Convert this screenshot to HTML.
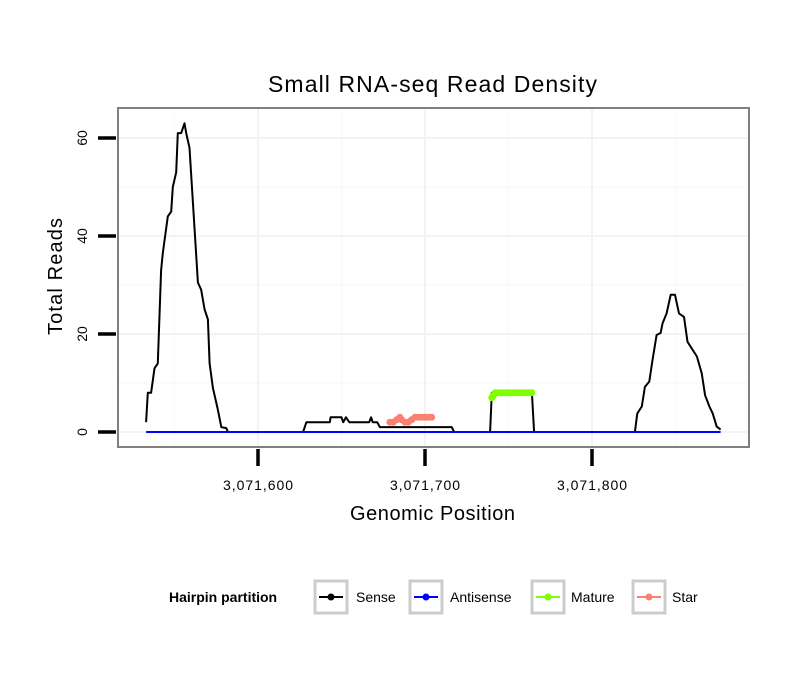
<!DOCTYPE html>
<html><head><meta charset="utf-8"><style>
body{margin:0;background:#fff}
svg text{font-family:"Liberation Sans",Arial,sans-serif}
</style></head><body>
<svg id="chart" width="810" height="690" viewBox="0 0 810 690" xmlns="http://www.w3.org/2000/svg">
<rect x="0" y="0" width="810" height="690" fill="#fff"/>
<text x="268" y="92" font-size="23" textLength="329" lengthAdjust="spacing" fill="#000">Small RNA-seq Read Density</text>
<g id="grid"></g>
<g id="series"></g>
<rect x="118" y="108" width="631" height="339" fill="none" stroke="#7f7f7f" stroke-width="2"/>
<g id="axes"></g>
<text x="350" y="520" font-size="20" textLength="165" lengthAdjust="spacing">Genomic Position</text>
<text transform="translate(62,335) rotate(-90)" font-size="20" textLength="117" lengthAdjust="spacing">Total Reads</text>
<g>
<text x="169" y="602" font-size="14" font-weight="bold">Hairpin partition</text>
<g>
<rect x="315" y="581" width="32" height="32" fill="#fff" stroke="#cccccc" stroke-width="3"/>
<line x1="319" y1="597" x2="343" y2="597" stroke="#000" stroke-width="2"/><circle cx="331" cy="597" r="3.5" fill="#000"/>
<text x="356" y="602" font-size="14">Sense</text></g>
<g>
<rect x="410" y="581" width="32" height="32" fill="#fff" stroke="#cccccc" stroke-width="3"/>
<line x1="414" y1="597" x2="438" y2="597" stroke="#0000ff" stroke-width="2"/><circle cx="426" cy="597" r="3.5" fill="#0000ff"/>
<text x="450" y="602" font-size="14">Antisense</text></g>
<g>
<rect x="532" y="581" width="32" height="32" fill="#fff" stroke="#cccccc" stroke-width="3"/>
<line x1="536" y1="597" x2="560" y2="597" stroke="#7fff00" stroke-width="2"/><circle cx="548" cy="597" r="3.5" fill="#7fff00"/>
<text x="571" y="602" font-size="14">Mature</text></g>
<g>
<rect x="633" y="581" width="32" height="32" fill="#fff" stroke="#cccccc" stroke-width="3"/>
<line x1="637" y1="597" x2="661" y2="597" stroke="#fa8072" stroke-width="2"/><circle cx="649" cy="597" r="3.5" fill="#fa8072"/>
<text x="672" y="602" font-size="14">Star</text></g>
</g>
</svg>
<script>
const base = 3071600;
const senseOffsets = [-67,-66,-64,-62,-60,-58,-57,-54,-52,-51,-49,-48,-46,-44,-43,-41,-36,-34,-32,-30,-29,-27,-24,-22,-19,-18,
 27,29,43,43.5,50,51,52.7,54.7,66.6,67.7,68.7,71.4,73,79,104,116,117.4,139,140,164,165.3,
 225.7,227.1,229.8,231.7,234.3,236.3,238.7,241.1,242.3,244.7,247.1,249.7,252.1,255.1,257.2,259.8,262.8,265.7,267.7,270.3,272.3,274.7,277];
const senseValues = [2,8,8,13,14,33,36.5,44,45,50,53,61,61,63,61,58,30.5,29,25,23,14,9,4.5,1,0.8,0,
 0,2,2,3,3,2,3,2,2,3,2,2,1,1,1,1,0,0,8,8,0,
 0,3.8,5.2,9.2,10.3,14.8,19.8,20.2,22.2,24.2,28,28,24.2,23.5,18.4,17,15.4,12,7.5,5.2,3.8,1.1,0.5];
const antisenseOffsets = [-67,277];
const antisenseValues = [0,0];
const matureOffsets = [140,141,142,144,146,148,150,152,154,156,158,160,162,164];
const matureValues = [7,7.5,8,8,8,8,8,8,8,8,8,8,8,8];
const starOffsets = [79,81,83,85,86,88,90,92,94,96,98,100,102,104];
const starValues = [2,2,2.5,3,2.5,2,2,2.5,3,3,3,3,3,3];
const yTicks = [0,20,40,60];
const yMinor = [10,30,50];
const xTicks = [3071600,3071700,3071800];
const xTickLabels = ["3,071,600","3,071,700","3,071,800"];
const xMinor = [3071550,3071650,3071750,3071850];

const NS="http://www.w3.org/2000/svg";
const X = v => 258 + (v - base) * 1.67;
const Y = v => 432 - v * 4.9;
function mk(tag, attrs, parent){const e=document.createElementNS(NS,tag);for(const k in attrs)e.setAttribute(k,attrs[k]);parent.appendChild(e);return e;}
const grid=document.getElementById('grid'), ser=document.getElementById('series'), axes=document.getElementById('axes');
mk('rect',{x:118,y:108,width:631,height:339,fill:'#fff'},grid);
yMinor.forEach(v=>{const l=mk('line',{x1:118,x2:749,y1:Y(v),y2:Y(v),stroke:'#fafafa','stroke-width':1.5},grid);

});
xMinor.forEach(v=>{const l=mk('line',{x1:X(v),x2:X(v),y1:108,y2:447,stroke:'#fafafa','stroke-width':1.5},grid);

});
yTicks.forEach(v=>{const l=mk('line',{x1:118,x2:749,y1:Y(v),y2:Y(v),stroke:'#f3f3f3','stroke-width':2},grid);

});
xTicks.forEach(v=>{const l=mk('line',{x1:X(v),x2:X(v),y1:108,y2:447,stroke:'#f3f3f3','stroke-width':2},grid);

});

function path(offs, vals, color, w, name){
  const d=offs.map((o,i)=>(i?'L':'M')+X(base+o).toFixed(1)+','+Y(vals[i]).toFixed(1)).join('');
  const p=mk('path',{d:d,fill:'none',stroke:color,'stroke-width':w,'stroke-linejoin':'round'},ser);
  
  
}
path(senseOffsets,senseValues,'#000',2,'sense-line');
path(antisenseOffsets,antisenseValues,'#0000ff',2,'antisense-line');
function pts(offs, vals, color, name){
  path(offs,vals,color,4,name+'-line');
  offs.forEach((o,i)=>{const c=mk('circle',{cx:X(base+o),cy:Y(vals[i]),r:3.5,fill:color},ser);
  
  });
}
pts(matureOffsets,matureValues,'#7fff00','mature');
pts(starOffsets,starValues,'#fa8072','star');

yTicks.forEach(v=>{
  const t=mk('line',{x1:98,x2:116,y1:Y(v),y2:Y(v),stroke:'#000','stroke-width':3.5},axes);
  
  
  const tx=mk('text',{transform:`translate(${87},${Y(v)}) rotate(-90)`,'font-size':14,'text-anchor':'middle'},axes);
  tx.textContent=String(v);
  
  
});
xTicks.forEach((v,i)=>{
  const t=mk('line',{x1:X(v),x2:X(v),y1:449,y2:466,stroke:'#000','stroke-width':3.5},axes);
  
  
  const tx=mk('text',{x:X(v)-35,y:490,'font-size':14,textLength:70,lengthAdjust:'spacing'},axes);
  tx.textContent=xTickLabels[i];
  
  
});
</script>
</body></html>
